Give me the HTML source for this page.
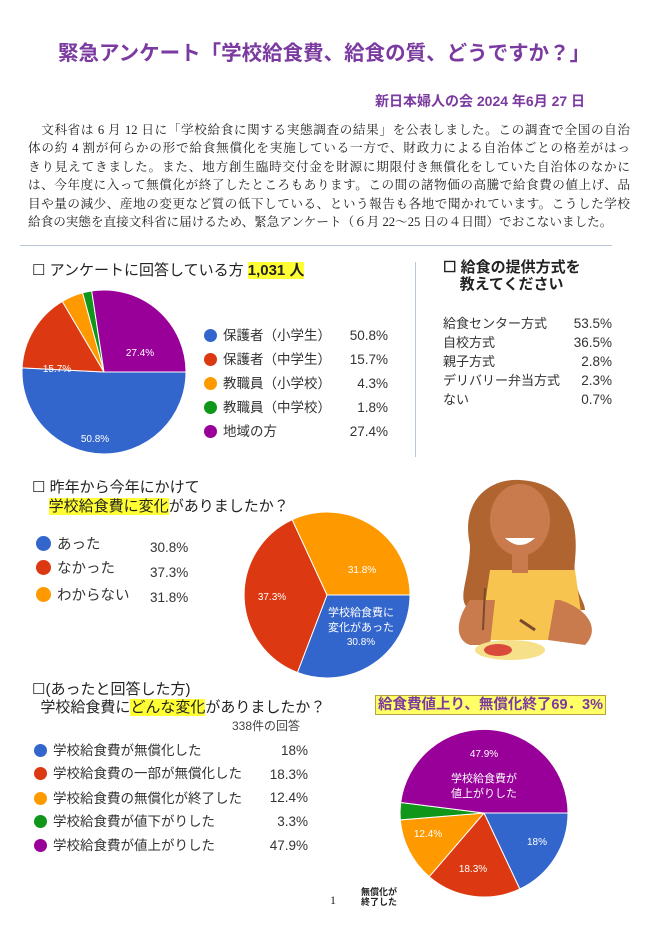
<!DOCTYPE html>
<html><head><meta charset="utf-8">
<style>
body{margin:0;background:#fff;}
#pg{position:relative;width:657px;height:930px;overflow:hidden;font-family:"Liberation Sans","Noto Sans CJK JP",sans-serif;color:#222;}
.a{position:absolute;white-space:nowrap;}
.p{position:absolute;left:28px;width:602px;font-size:12.6px;line-height:16px;text-align:justify;text-align-last:justify;font-family:"Liberation Serif","Noto Serif CJK SC","Noto Sans CJK JP",serif;}
.hl{background:#ffff33;}
.lg{position:absolute;font-size:13.5px;color:#333;white-space:nowrap;}
.dot{display:inline-block;width:13px;height:13px;border-radius:50%;vertical-align:-2px;margin-right:6px;}
</style></head><body><div id="pg">
<div class="a" style="left:58px;top:36px;font-size:20.5px;font-weight:bold;color:#7b3aa0;">緊急アンケート「学校給食費、給食の質、どうですか？」</div>
<div class="a" style="left:375px;top:91px;font-size:14px;font-weight:bold;color:#7b3aa0;">新日本婦人の会 2024 年6月 27 日</div>
<div class="p" style="top:122px">　文科省は 6 月 12 日に「学校給食に関する実態調査の結果」を公表しました。この調査で全国の自治</div>
<div class="p" style="top:140px">体の約 4 割が何らかの形で給食無償化を実施している一方で、財政力による自治体ごとの格差がはっ</div>
<div class="p" style="top:159px">きり見えてきました。また、地方創生臨時交付金を財源に期限付き無償化をしていた自治体のなかに</div>
<div class="p" style="top:177px">は、今年度に入って無償化が終了したところもあります。この間の諸物価の高騰で給食費の値上げ、品</div>
<div class="p" style="top:196px">目や量の減少、産地の変更など質の低下している、という報告も各地で聞かれています。こうした学校</div>
<div class="p" style="top:214px;text-align-last:left">給食の実態を直接文科省に届けるため、緊急アンケート（６月 22～25 日の４日間）でおこないました。</div>
<div class="a" style="left:20px;top:245px;width:592px;height:1px;background:#b9c6d6;"></div>
<div class="a" style="left:415px;top:262px;width:1px;height:195px;background:#b9c6d6;"></div>

<div class="a" style="left:32px;top:259px;font-size:15px;">☐ アンケートに回答している方 <span class="hl" style="font-weight:bold;">1,031 人</span></div>
<div class="lg" style="left:204px;top:324px;"><span class="dot" style="background:#3366cc"></span>保護者（小学生）</div>
<div class="lg" style="left:204px;top:348px;"><span class="dot" style="background:#dc3912"></span>保護者（中学生）</div>
<div class="lg" style="left:204px;top:372px;"><span class="dot" style="background:#ff9900"></span>教職員（小学校）</div>
<div class="lg" style="left:204px;top:396px;"><span class="dot" style="background:#109618"></span>教職員（中学校）</div>
<div class="lg" style="left:204px;top:420px;"><span class="dot" style="background:#990099"></span>地域の方</div>
<div class="lg" style="left:328px;top:324px;width:60px;text-align:right;line-height:24px;">50.8%<br>15.7%<br>4.3%<br>1.8%<br>27.4%</div>

<div class="a" style="left:443px;top:259px;font-size:15px;font-weight:bold;line-height:17px;">☐ 給食の提供方式を<br>&nbsp;&nbsp;&nbsp;&nbsp;教えてください</div>
<div class="a" style="left:443px;top:314px;font-size:13px;line-height:19px;color:#333;">給食センター方式<br>自校方式<br>親子方式<br>デリバリー弁当方式<br>ない</div>
<div class="a" style="left:552px;top:314px;width:60px;text-align:right;font-size:13.5px;line-height:19px;color:#333;">53.5%<br>36.5%<br>2.8%<br>2.3%<br>0.7%</div>

<div class="a" style="left:32px;top:478px;font-size:15px;line-height:19px;">☐ 昨年から今年にかけて<br>&nbsp;&nbsp;&nbsp;&nbsp;<span class="hl">学校給食費に変化</span>がありましたか？</div>
<div class="lg" style="left:36px;top:533px;font-size:14.5px;"><span class="dot" style="background:#3366cc;width:15px;height:15px"></span>あった</div>
<div class="lg" style="left:36px;top:557px;font-size:14.5px;"><span class="dot" style="background:#dc3912;width:15px;height:15px"></span>なかった</div>
<div class="lg" style="left:36px;top:584px;font-size:14.5px;"><span class="dot" style="background:#ff9900;width:15px;height:15px"></span>わからない</div>
<div class="lg" style="left:150px;top:535px;font-size:13.5px;line-height:25px;">30.8%<br>37.3%<br>31.8%</div>

<div class="a" style="left:32px;top:681px;font-size:15px;line-height:18px;">☐(あったと回答した方)<br>&nbsp;&nbsp;学校給食費に<span class="hl">どんな変化</span>がありましたか？</div>
<div class="a" style="left:232px;top:717px;font-size:12px;color:#444;">338件の回答</div>
<div class="lg" style="left:34px;top:739px;"><span class="dot" style="background:#3366cc"></span>学校給食費が無償化した</div>
<div class="lg" style="left:34px;top:762px;"><span class="dot" style="background:#dc3912"></span>学校給食費の一部が無償化した</div>
<div class="lg" style="left:34px;top:787px;"><span class="dot" style="background:#ff9900"></span>学校給食費の無償化が終了した</div>
<div class="lg" style="left:34px;top:810px;"><span class="dot" style="background:#109618"></span>学校給食費が値下がりした</div>
<div class="lg" style="left:34px;top:834px;"><span class="dot" style="background:#990099"></span>学校給食費が値上がりした</div>
<div class="lg" style="left:262px;top:739px;width:46px;text-align:right;line-height:23.7px;">18%<br>18.3%<br>12.4%<br>3.3%<br>47.9%</div>

<div class="a" style="left:375px;top:695px;font-size:14.5px;font-weight:bold;color:#7b3aa0;background:#ffff66;border:1px solid #b9a040;padding:0 2px;line-height:18px;">給食費値上り、無償化終了69．3%</div>
<div class="a" style="left:361px;top:887px;font-size:9px;font-weight:bold;line-height:10px;">無償化が<br>終了した</div>
<div class="a" style="left:330px;top:893px;font-size:12px;font-family:'Liberation Serif',serif;">1</div>

<svg class="a" style="left:0;top:0" width="657" height="930">
<g stroke="#fff" stroke-width="1">
<path d="M104 372 L186 372 A82 82 0 1 1 22.1 367.9Z" fill="#3366cc"/>
<path d="M104 372 L22.1 367.9 A82 82 0 0 1 62.3 301.4Z" fill="#dc3912"/>
<path d="M104 372 L62.3 301.4 A82 82 0 0 1 82.6 292.8Z" fill="#ff9900"/>
<path d="M104 372 L82.6 292.8 A82 82 0 0 1 91.7 290.9Z" fill="#109618"/>
<path d="M104 372 L91.7 290.9 A82 82 0 0 1 186 372Z" fill="#990099"/>

<path d="M327 595 L410 595 A83 83 0 0 1 297.4 672.5Z" fill="#3366cc"/>
<path d="M327 595 L297.4 672.5 A83 83 0 0 1 292.2 519.7Z" fill="#dc3912"/>
<path d="M327 595 L292.2 519.7 A83 83 0 0 1 410 595Z" fill="#ff9900"/>

<path d="M484 813 L568 813 A84 84 0 0 1 519.8 889Z" fill="#3366cc"/>
<path d="M484 813 L519.8 889 A84 84 0 0 1 429.2 876.7Z" fill="#dc3912"/>
<path d="M484 813 L429.2 876.7 A84 84 0 0 1 400.3 819.9Z" fill="#ff9900"/>
<path d="M484 813 L400.3 819.9 A84 84 0 0 1 400.7 802.5Z" fill="#109618"/>
<path d="M484 813 L400.7 802.5 A84 84 0 0 1 568 813Z" fill="#990099"/>
</g>
<g fill="#fff" font-size="10" font-family="Liberation Sans,sans-serif" text-anchor="middle">
<text x="140" y="356">27.4%</text><text x="57" y="372">15.7%</text><text x="95" y="442">50.8%</text>
<text x="362" y="573">31.8%</text><text x="272" y="600">37.3%</text>
<text x="361" y="616" font-size="11" font-family="Liberation Sans,Noto Sans CJK JP,sans-serif">学校給食費に</text>
<text x="361" y="631" font-size="11" font-family="Liberation Sans,Noto Sans CJK JP,sans-serif">変化があった</text>
<text x="361" y="645">30.8%</text>
<text x="484" y="757">47.9%</text>
<text x="484" y="782" font-size="11" font-family="Liberation Sans,Noto Sans CJK JP,sans-serif">学校給食費が</text>
<text x="484" y="797" font-size="11" font-family="Liberation Sans,Noto Sans CJK JP,sans-serif">値上がりした</text>
<text x="537" y="845">18%</text><text x="473" y="872">18.3%</text><text x="428" y="837">12.4%</text>
</g>
<path d="M470 545 C460 500 490 478 520 480 C560 482 580 510 575 560 C572 590 585 600 585 610 L470 610 C455 600 470 580 470 545Z" fill="#b06530"/>
<path d="M490 570 L575 570 L585 640 L480 640Z" fill="#f8c450"/>
<path d="M470 600 C455 620 455 640 470 645 L490 645 L495 600Z" fill="#c97b4e"/>
<path d="M560 600 C590 610 600 630 585 645 L548 640 L555 600Z" fill="#c97b4e"/>
<ellipse cx="520" cy="520" rx="30" ry="36" fill="#c97b4e"/>
<path d="M505 538 Q520 552 535 538Z" fill="#fff"/>
<rect x="512" y="555" width="16" height="18" fill="#c97b4e"/>
<ellipse cx="510" cy="650" rx="35" ry="10" fill="#f7e08a"/>
<ellipse cx="498" cy="650" rx="14" ry="6" fill="#d94a3a"/>
<line x1="485" y1="588" x2="483" y2="630" stroke="#7a4a2a" stroke-width="2"/>
<line x1="520" y1="620" x2="535" y2="630" stroke="#7a4a2a" stroke-width="3"/>
</svg>
</div></body></html>
